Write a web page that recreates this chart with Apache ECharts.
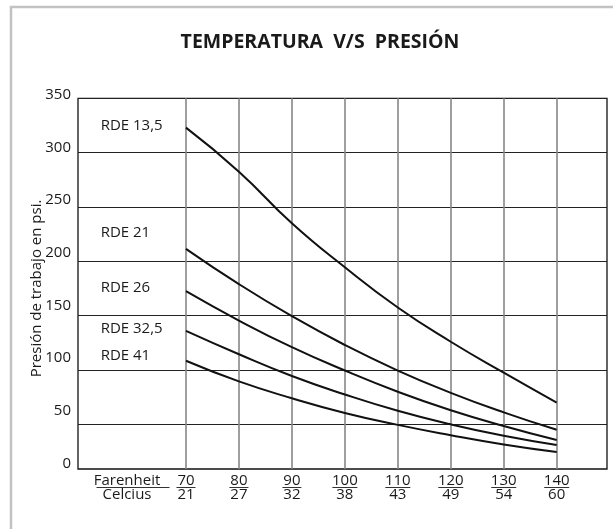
<!DOCTYPE html>
<html>
<head>
<meta charset="utf-8">
<script src="https://cdn.jsdelivr.net/npm/echarts@6/dist/echarts.min.js"></script>
<style>
html, body { margin: 0; padding: 0; background: #fff; }
#chart { width: 613px; height: 529px; }
</style>
</head>
<body>
<div id="chart"></div>
<script>
// eje x: temperatura
const farenheit = [70, 80, 90, 100, 110, 120, 130, 140]
const celcius = [21, 27, 32, 38, 43, 49, 54, 60]
// eje y: presion (psi)
const yTicks = [0, 50, 100, 150, 200, 250, 300, 350]
// curvas RDE
const seriesNames = ['RDE 13,5', 'RDE 21', 'RDE 26', 'RDE 32,5', 'RDE 41']
const rde135 = [323, 282.5, 235, 194.5, 157.5, 126, 97.5, 70]
const rde21 = [211.5, 179, 149.5, 123, 99.5, 79, 61, 45]
const rde26 = [172.5, 145.5, 121, 99.5, 80, 63, 48.5, 35.5]
const rde325 = [136, 114.5, 94.5, 77.5, 62.5, 50, 39.5, 31]
const rde41 = [108.5, 89.5, 74, 60.5, 49.5, 40, 31.5, 24.5]

const curves = [rde135, rde21, rde26, rde325, rde41]
const labelDy = [-2, -16, -3, -2, -5] // posicion vertical de los nombres

const font = 'Open Sans'
const yMin = yTicks[0]
const yMax = yTicks[yTicks.length - 1]
const yStep = yTicks[1] - yTicks[0]

let chart = echarts.init(document.getElementById('chart'))

function xLabel (value) {
    if (value === 60) return '{f|Farenheit}\n{uF|}\n{f|Celcius}'
    let i = farenheit.indexOf(value)
    if (i < 0) return ''
    let u = String(value).length > 2 ? 'u3' : 'u2'
    return '{t|' + value + '}\n{' + u + '|}\n{t|' + celcius[i] + '}'
}

let hidden = { show: false }

let option = {
    animation: false,
    backgroundColor: '#fff',
    title: {
        text: 'TEMPERATURA  V/S  PRESIÓN',
        left: 315,
        textAlign: 'center',
        top: 27,
        textStyle: { fontFamily: font, fontSize: 19.5, fontWeight: 'bold', color: '#1a1a1a' }
    },
    graphic: [{
        type: 'rect',
        shape: { x: 11, y: 7, width: 700, height: 700 },
        style: { fill: 'none', stroke: '#c2c2c2', lineWidth: 2.5 },
        silent: true
    }],
    grid: [
        // 0: lineas horizontales
        { left: 78, right: 6, top: 98.3, bottom: 50.33 },
        // 1: marco
        { left: 78, right: 6, top: 98.3, bottom: 60, show: true, borderColor: '#111', borderWidth: 1.3 },
        // 2: lineas verticales, etiquetas x y curvas
        { left: 133, right: 56.3, top: 98.3, bottom: 60 },
        // 3: etiquetas y
        { left: 78, right: 6, top: 95, bottom: 65.7 }
    ],
    xAxis: [
        { gridIndex: 0, type: 'value', min: 0, max: 1, show: false },
        { gridIndex: 1, type: 'value', min: 0, max: 1, show: false },
        {
            gridIndex: 2,
            type: 'value',
            min: 60,
            max: 140,
            interval: 10,
            axisLine: hidden,
            axisTick: hidden,
            splitLine: {
                show: true,
                showMinLine: false,
                lineStyle: { color: '#878787', width: 1.6 }
            },
            axisLabel: {
                margin: 5,
                formatter: xLabel,
                rich: {
                    t: { fontFamily: font, fontSize: 15, lineHeight: 13, color: '#1a1a1a', align: 'center' },
                    f: { fontFamily: font, fontSize: 15, lineHeight: 13, color: '#1a1a1a', align: 'center', padding: [0, 12, 0, 0] },
                    u2: { width: 19, height: 1, lineHeight: 1, backgroundColor: '#333', align: 'center' },
                    u3: { width: 25, height: 1, lineHeight: 1, backgroundColor: '#333', align: 'center' },
                    uF: { width: 61, height: 1, lineHeight: 1, backgroundColor: '#333', align: 'center', padding: [0, 12, 0, 0] }
                }
            }
        },
        { gridIndex: 3, type: 'value', min: 0, max: 1, show: false }
    ],
    yAxis: [
        {
            gridIndex: 0,
            type: 'value',
            min: yMin,
            max: yMax,
            interval: yStep,
            name: 'Presión de trabajo en psi.',
            nameLocation: 'middle',
            nameGap: 34,
            nameTextStyle: { fontFamily: font, fontSize: 15, color: '#1a1a1a' },
            axisLine: hidden,
            axisTick: hidden,
            axisLabel: hidden,
            splitLine: {
                show: true,
                showMinLine: false,
                lineStyle: { color: '#222', width: 1.2 }
            }
        },
        { gridIndex: 1, type: 'value', min: 0, max: 1, show: false },
        // misma escala que las lineas horizontales (0 cae bajo el marco)
        { gridIndex: 2, type: 'value', min: 8.9, max: yMax, show: false },
        {
            gridIndex: 3,
            type: 'value',
            min: yMin,
            max: yMax,
            interval: yStep,
            axisLine: hidden,
            axisTick: hidden,
            splitLine: hidden,
            axisLabel: {
                margin: 7,
                fontFamily: font,
                fontSize: 15,
                color: '#1a1a1a'
            }
        }
    ],
    series: curves.map((arr, i) => ({
        name: seriesNames[i],
        type: 'line',
        xAxisIndex: 2,
        yAxisIndex: 2,
        smooth: 0.5,
        symbol: 'circle',
        symbolSize: 0,
        showSymbol: true,
        silent: true,
        lineStyle: { color: '#111', width: 2 },
        itemStyle: { color: '#111' },
        data: arr.map((v, j) => {
            if (j > 0) return [farenheit[j], v]
            return {
                value: [farenheit[j], v],
                label: {
                    show: true,
                    formatter: seriesNames[i],
                    position: [-85.3, labelDy[i]],
                    align: 'left',
                    verticalAlign: 'middle',
                    fontFamily: font,
                    fontSize: 15,
                    color: '#1a1a1a'
                }
            }
        })
    }))
}

chart.setOption(option)
</script>
</body>
</html>
